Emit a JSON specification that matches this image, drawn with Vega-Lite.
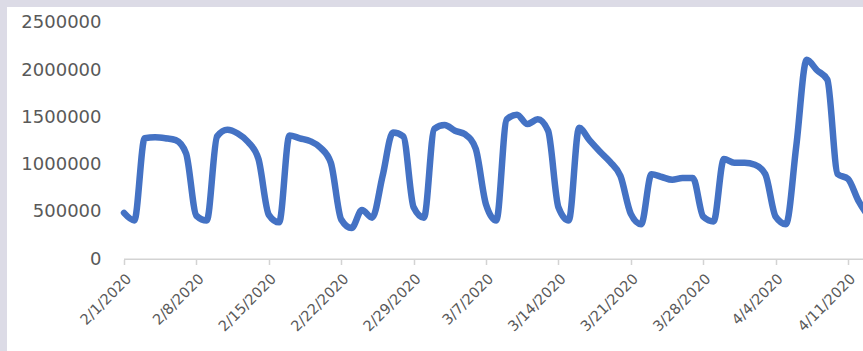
{
  "$schema": "https://vega.github.io/schema/vega-lite/v6.json",
  "width": 856,
  "height": 344,
  "autosize": {"type": "none"},
  "padding": {"left": 7, "top": 7, "right": 0, "bottom": 0},
  "background": "#dcdbe6",
  "config": {
    "view": {"stroke": null, "fill": "white"},
    "axis": {"grid": false, "labelFont": "DejaVu Sans", "labelColor": "#595959"}
  },
  "data": {"values": [
    {"date": "2020-02-01", "value": 490000},
    {"date": "2020-02-02", "value": 410000},
    {"date": "2020-02-03", "value": 1280000},
    {"date": "2020-02-04", "value": 1290000},
    {"date": "2020-02-05", "value": 1280000},
    {"date": "2020-02-06", "value": 1260000},
    {"date": "2020-02-07", "value": 1120000},
    {"date": "2020-02-08", "value": 460000},
    {"date": "2020-02-09", "value": 410000},
    {"date": "2020-02-10", "value": 1300000},
    {"date": "2020-02-11", "value": 1370000},
    {"date": "2020-02-12", "value": 1330000},
    {"date": "2020-02-13", "value": 1240000},
    {"date": "2020-02-14", "value": 1060000},
    {"date": "2020-02-15", "value": 470000},
    {"date": "2020-02-16", "value": 390000},
    {"date": "2020-02-17", "value": 1310000},
    {"date": "2020-02-18", "value": 1280000},
    {"date": "2020-02-19", "value": 1250000},
    {"date": "2020-02-20", "value": 1180000},
    {"date": "2020-02-21", "value": 1020000},
    {"date": "2020-02-22", "value": 420000},
    {"date": "2020-02-23", "value": 330000},
    {"date": "2020-02-24", "value": 520000},
    {"date": "2020-02-25", "value": 440000},
    {"date": "2020-02-26", "value": 880000},
    {"date": "2020-02-27", "value": 1340000},
    {"date": "2020-02-28", "value": 1300000},
    {"date": "2020-02-29", "value": 550000},
    {"date": "2020-03-01", "value": 440000},
    {"date": "2020-03-02", "value": 1380000},
    {"date": "2020-03-03", "value": 1420000},
    {"date": "2020-03-04", "value": 1360000},
    {"date": "2020-03-05", "value": 1320000},
    {"date": "2020-03-06", "value": 1170000},
    {"date": "2020-03-07", "value": 580000},
    {"date": "2020-03-08", "value": 410000},
    {"date": "2020-03-09", "value": 1480000},
    {"date": "2020-03-10", "value": 1530000},
    {"date": "2020-03-11", "value": 1430000},
    {"date": "2020-03-12", "value": 1480000},
    {"date": "2020-03-13", "value": 1360000},
    {"date": "2020-03-14", "value": 550000},
    {"date": "2020-03-15", "value": 410000},
    {"date": "2020-03-16", "value": 1390000},
    {"date": "2020-03-17", "value": 1260000},
    {"date": "2020-03-18", "value": 1140000},
    {"date": "2020-03-19", "value": 1030000},
    {"date": "2020-03-20", "value": 880000},
    {"date": "2020-03-21", "value": 480000},
    {"date": "2020-03-22", "value": 370000},
    {"date": "2020-03-23", "value": 900000},
    {"date": "2020-03-24", "value": 870000},
    {"date": "2020-03-25", "value": 840000},
    {"date": "2020-03-26", "value": 860000},
    {"date": "2020-03-27", "value": 860000},
    {"date": "2020-03-28", "value": 450000},
    {"date": "2020-03-29", "value": 400000},
    {"date": "2020-03-30", "value": 1060000},
    {"date": "2020-03-31", "value": 1020000},
    {"date": "2020-04-01", "value": 1020000},
    {"date": "2020-04-02", "value": 1000000},
    {"date": "2020-04-03", "value": 900000},
    {"date": "2020-04-04", "value": 450000},
    {"date": "2020-04-05", "value": 370000},
    {"date": "2020-04-06", "value": 1200000},
    {"date": "2020-04-07", "value": 2110000},
    {"date": "2020-04-08", "value": 2000000},
    {"date": "2020-04-09", "value": 1900000},
    {"date": "2020-04-10", "value": 900000},
    {"date": "2020-04-11", "value": 850000},
    {"date": "2020-04-12", "value": 620000},
    {"date": "2020-04-13", "value": 450000}
  ]},
  "layer": [
    {
      "data": {"values": [{}]},
      "mark": {"type": "rule", "color": "#d3d3d3", "strokeWidth": 1.5, "clip": true},
      "encoding": {
        "x": {"datum": {"year": 2020, "month": 2, "date": 1, "utc": true}, "type": "temporal"},
        "x2": {"datum": {"year": 2020, "month": 4, "date": 14, "utc": true}},
        "y": {"datum": 0, "type": "quantitative"}
      }
    },
    {
      "mark": {"type": "line", "color": "#4472c4", "strokeWidth": 6.5, "interpolate": "monotone", "strokeCap": "round", "strokeJoin": "round", "clip": true},
      "encoding": {
        "x": {
          "field": "date",
          "type": "temporal",
          "scale": {"type": "utc", "domain": [1579537843200, 1586688393600]},
          "axis": {
            "title": null,
            "offset": -91.5,
            "domain": false,
            "values": [
              {"year": 2020, "month": 2, "date": 1, "utc": true},
              {"year": 2020, "month": 2, "date": 8, "utc": true},
              {"year": 2020, "month": 2, "date": 15, "utc": true},
              {"year": 2020, "month": 2, "date": 22, "utc": true},
              {"year": 2020, "month": 2, "date": 29, "utc": true},
              {"year": 2020, "month": 3, "date": 7, "utc": true},
              {"year": 2020, "month": 3, "date": 14, "utc": true},
              {"year": 2020, "month": 3, "date": 21, "utc": true},
              {"year": 2020, "month": 3, "date": 28, "utc": true},
              {"year": 2020, "month": 4, "date": 4, "utc": true},
              {"year": 2020, "month": 4, "date": 11, "utc": true}
            ],
            "labelExpr": "utcFormat(datum.value, '%-m/%-d/%Y')",
            "labelAngle": -45,
            "labelAlign": "right",
            "labelBaseline": "top",
            "labelFontSize": 14.5,
            "labelPadding": 7,
            "labelOverlap": false,
            "labelBound": false,
            "labelFlush": false,
            "tickColor": "#d3d3d3",
            "tickSize": 5,
            "tickWidth": 1.5
          }
        },
        "y": {
          "field": "value",
          "type": "quantitative",
          "scale": {"domain": [-971600, 2669300], "nice": false, "zero": false},
          "axis": {
            "title": null,
            "offset": -115,
            "domain": false,
            "ticks": false,
            "values": [0, 500000, 1000000, 1500000, 2000000, 2500000],
            "format": "d",
            "labelFontSize": 18,
            "labelPadding": 21,
            "labelOverlap": false,
            "labelBound": false,
            "labelFlush": false
          }
        }
      }
    }
  ]
}
